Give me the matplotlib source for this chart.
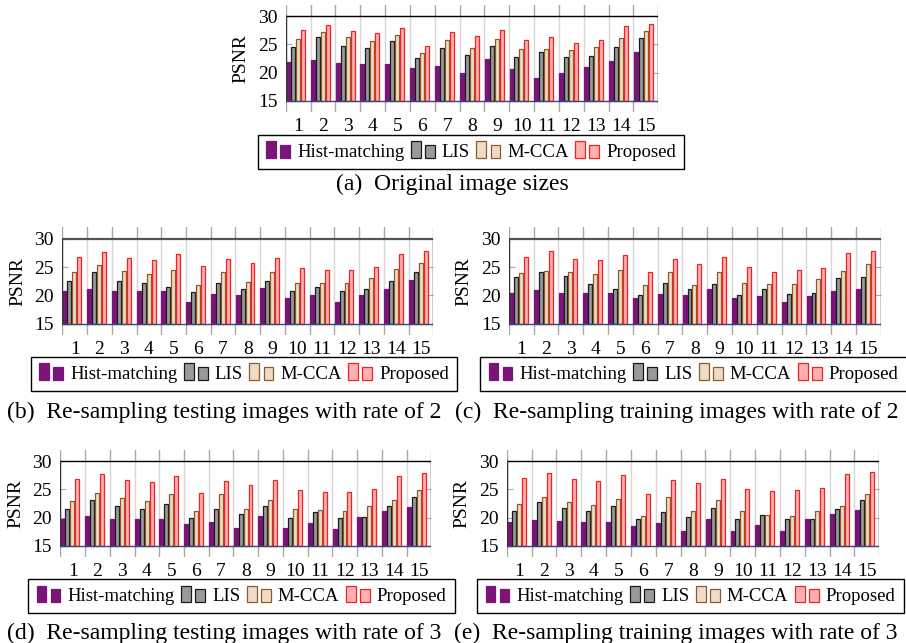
import matplotlib
matplotlib.use("Agg")
import matplotlib.pyplot as plt
from matplotlib.patches import Rectangle, Patch
from matplotlib.legend_handler import HandlerBase

plt.rcParams['font.family'] = ['Liberation Serif', 'DejaVu Serif']
plt.rcParams['mathtext.fontset'] = 'stix'

images = list(range(1, 16))
methods = ["Hist-matching", "LIS", "M-CCA", "Proposed"]

# (a) Original image sizes
a_hist = [21.8, 22.2, 21.7, 21.6, 21.6, 20.8, 21.2, 20.0, 22.35, 20.6, 19.0, 19.9, 21.05, 22.1, 23.7]
a_lis  = [24.6, 26.3, 24.7, 24.3, 25.6, 22.6, 24.4, 23.2, 24.7, 22.7, 23.6, 22.7, 23.0, 24.6, 26.1]
a_mcca = [26.0, 27.2, 26.3, 25.6, 26.7, 23.5, 25.8, 24.4, 26.0, 24.2, 24.1, 23.95, 24.5, 26.2, 27.45]
a_prop = [27.5, 28.5, 27.3, 27.0, 28.0, 24.8, 27.2, 26.5, 27.5, 25.8, 26.3, 25.3, 25.8, 28.3, 28.6]

# (b) Re-sampling testing images with rate of 2
b_hist = [20.76, 21.2, 20.7, 20.7, 20.7, 18.8, 20.3, 20.1, 21.3, 19.6, 20.1, 18.9, 20.1, 21.1, 22.75]
b_lis  = [22.6, 24.1, 22.6, 22.2, 21.4, 20.65, 22.2, 21.2, 22.6, 20.7, 21.5, 20.7, 21.1, 22.5, 24.05]
b_mcca = [24.2, 25.3, 24.35, 23.7, 24.55, 21.8, 24.1, 22.3, 24.1, 22.2, 22.1, 22.2, 23.05, 24.6, 25.7]
b_prop = [26.7, 27.6, 26.65, 26.2, 27.3, 25.2, 26.4, 25.7, 26.65, 24.8, 24.4, 24.4, 25.05, 27.35, 27.8]

# (c) Re-sampling training images with rate of 2
c_hist = [20.5, 21.0, 20.5, 20.35, 20.5, 19.6, 20.2, 20.1, 21.2, 19.5, 19.9, 18.8, 19.9, 20.7, 21.05]
c_lis  = [23.2, 24.2, 23.45, 22.05, 21.2, 20.1, 22.1, 21.1, 22.05, 20.1, 21.1, 20.2, 20.35, 23.0, 23.2]
c_mcca = [24.0, 24.35, 24.1, 23.7, 24.5, 21.8, 24.05, 21.9, 24.05, 22.1, 22.05, 22.05, 22.9, 24.35, 25.5]
c_prop = [26.8, 27.75, 26.5, 26.3, 27.1, 24.05, 26.35, 25.5, 26.7, 24.95, 24.2, 24.5, 24.8, 27.5, 27.8]

# (d) Re-sampling testing images with rate of 3
d_hist = [19.8, 20.2, 19.8, 19.7, 19.7, 18.85, 19.3, 18.1, 20.2, 18.1, 19.1, 17.95, 20.1, 21.2, 21.8]
d_lis  = [21.6, 23.2, 22.0, 21.6, 22.35, 20.0, 21.5, 20.6, 22.0, 20.0, 21.05, 20.0, 20.1, 22.05, 23.6]
d_mcca = [23.0, 24.3, 23.4, 23.0, 24.1, 21.1, 24.1, 21.6, 23.2, 21.6, 21.3, 21.1, 22.05, 23.05, 24.9]
d_prop = [26.8, 27.7, 26.6, 26.3, 27.4, 24.3, 26.5, 25.8, 26.6, 24.9, 24.5, 24.5, 25.1, 27.45, 27.9]

# (e) Re-sampling training images with rate of 3
e_hist = [19.2, 19.5, 19.35, 19.25, 19.15, 18.5, 19.1, 17.6, 19.75, 17.7, 18.7, 17.6, 19.75, 20.6, 21.3]
e_lis  = [21.2, 22.8, 21.7, 21.1, 22.05, 19.7, 21.0, 20.1, 21.7, 19.7, 20.45, 19.75, 19.75, 21.6, 23.2]
e_mcca = [22.35, 23.6, 22.7, 22.2, 23.3, 20.2, 23.6, 21.1, 23.1, 21.1, 20.4, 20.25, 21.15, 22.05, 24.2]
e_prop = [27.0, 28.0, 26.8, 26.5, 27.55, 24.25, 26.7, 26.15, 26.9, 25.1, 24.8, 24.85, 25.2, 27.7, 28.1]

captions = ["(a)  Original image sizes",
            "(b)  Re-sampling testing images with rate of 2",
            "(c)  Re-sampling training images with rate of 2",
            "(d)  Re-sampling testing images with rate of 3",
            "(e)  Re-sampling training images with rate of 3"]

face = ["#7a1479", "#999999", "#f0dcc6", "#ffb0b0"]
edge = ["#7a1479", "#1a1a1a", "#8b5a2b", "#ee2424"]

W, H = 906, 643
fig = plt.figure(figsize=(W / 100, H / 100), dpi=100)

# panel geometry in pixels: (left, right, top, bottom), legend center, caption center
panels = [
    ((a_hist, a_lis, a_mcca, a_prop), (285.7, 658.3, 5, 112), (471, 152), (452.5, 184), "k", 1.0),
    ((b_hist, b_lis, b_mcca, b_prop), (62.3, 433.3, 227.4, 335), (244, 374), (224, 412), "#555555", 1.6),
    ((c_hist, c_lis, c_mcca, c_prop), (508.7, 880.7, 227.4, 335), (693.5, 374), (676.5, 412), "#555555", 1.6),
    ((d_hist, d_lis, d_mcca, d_prop), (60.3, 431.3, 450, 557), (241.5, 596.4), (224, 633), "k", 1.0),
    ((e_hist, e_lis, e_mcca, e_prop), (506.7, 879.3, 450, 557), (690.5, 596.4), (676, 633), "k", 1.0),
]


class TwoBarHandler(HandlerBase):
    def create_artists(self, legend, orig_handle, xdescent, ydescent, width, height, fontsize, trans):
        fc = orig_handle.get_facecolor()
        ec = orig_handle.get_edgecolor()
        w = width * 0.40
        r1 = Rectangle((-xdescent, -ydescent - 0.1 * height), w, height * 1.25,
                       facecolor=fc, edgecolor=ec, lw=0.9, transform=trans)
        r2 = Rectangle((-xdescent + width * 0.58, -ydescent - 0.1 * height), w, height * 1.0,
                       facecolor=fc, edgecolor=ec, lw=0.9, transform=trans)
        return [r1, r2]


bar_w = 0.16
pitch = 0.2
ymin, ymax = 13.0, 32.0

for idx, (series, (l, r, t, b), (lx, ly), (cx, cy), topcol, toplw) in enumerate(panels):
    ax = fig.add_axes([l / W, 1 - b / H, (r - l) / W, (b - t) / H])
    ax.set_xlim(0.5, 15.5)
    ax.set_ylim(ymin, ymax)
    for s in ax.spines.values():
        s.set_visible(False)

    # vertical grid lines at group boundaries
    for gx in [i + 0.5 for i in range(0, 16)]:
        ax.plot([gx, gx], [15, 30], color="#d6d6d6", lw=1.0, zorder=0)
        ax.plot([gx, gx], [30, ymax], color="#a8a8a8", lw=1.0, zorder=0)
        ax.plot([gx, gx], [ymin, 15], color="#a8a8a8", lw=1.0, zorder=0)

    handles = []
    for k, vals in enumerate(series):
        xs = [i - 0.5 + 0.09 + pitch * k for i in images]
        hts = [v - 15 for v in vals]
        ax.bar(xs, hts, bottom=15, width=bar_w, color=face[k], edgecolor=edge[k],
               linewidth=0.9, zorder=3)
        handles.append(Patch(facecolor=face[k], edgecolor=edge[k]))

    # box
    ax.plot([0.5, 15.5], [30, 30], color=topcol, lw=toplw, zorder=4)
    ax.plot([0.5, 0.5], [15, 30], color="#333333", lw=1.0, zorder=4)
    ax.plot([15.5, 15.5], [15, 30], color="#333333", lw=1.0, zorder=4)
    ax.plot([0.5, 15.5], [15, 15], color="#3a4778", lw=1.0, zorder=4)

    ax.set_yticks([15, 20, 25, 30])
    ax.set_yticklabels(["15", "20", "25", "30"], fontsize=14)
    ax.tick_params(axis="y", direction="in", length=4, color="#aaaaaa", pad=6,
                   left=True, right=True)
    ax.set_xticks(images)
    ax.set_xticklabels([str(i) for i in images], fontsize=14)
    ax.tick_params(axis="x", length=0, pad=4)
    ax.set_ylabel("PSNR", fontsize=14, labelpad=6)

    ax.legend(handles, methods, loc="center", bbox_to_anchor=(lx / W, 1 - ly / H),
              bbox_transform=fig.transFigure, ncol=4, fontsize=13.5,
              handler_map={Patch: TwoBarHandler()}, frameon=True, fancybox=False,
              edgecolor="black", framealpha=1, borderpad=0.45, handlelength=1.3,
              handletextpad=0.35, columnspacing=0.35, borderaxespad=0)

    fig.text(cx / W, 1 - cy / H, captions[idx], ha="center", va="center", fontsize=17)

fig.savefig("out.png", dpi=100)
